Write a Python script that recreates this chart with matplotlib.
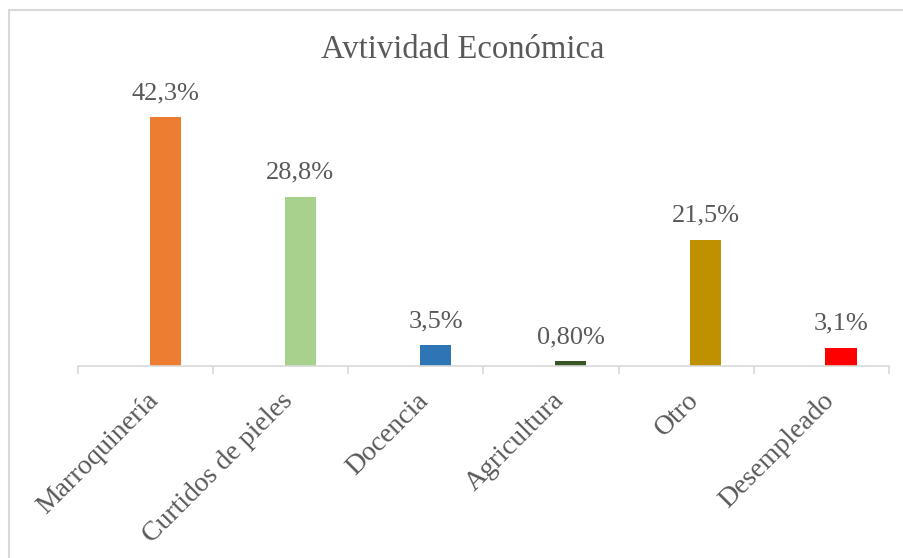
import matplotlib.pyplot as plt
from matplotlib.patches import Rectangle

# ── Data ──────────────────────────────────────────────────────────────────────

categories = ["Marroquinería", "Curtidos de pieles", "Docencia",
              "Agricultura", "Otro", "Desempleado"]
values = [42.3, 28.8, 3.5, 0.8, 21.5, 3.1]
value_labels = ["42,3%", "28,8%", "3,5%", "0,80%", "21,5%", "3,1%"]
bar_colors = ["#ED7D31", "#A9D18E", "#2E75B6", "#375623", "#BF9000", "#FF0000"]

TITLE = "Avtividad Económica"
TEXT_COLOR = "#595959"
AXIS_COLOR = "#D9D9D9"
BAR_SHIFT = 0.145   # bars sit a little right of the category centre (Excel series offset)

# ── Figure ────────────────────────────────────────────────────────────────────

plt.rcParams["font.family"] = ["Liberation Serif", "DejaVu Serif"]

W, H = 904, 558
fig = plt.figure(figsize=(W / 100, H / 100), dpi=100)

# outer chart border (light gray, right/bottom cut off like the source)
fig.patches.append(Rectangle((8.5 / W, -0.2), 1.2, 1.2 - 9.5 / H,
                             transform=fig.transFigure, fill=False,
                             edgecolor=AXIS_COLOR, linewidth=1.5))

left, right, bottom, top = 78, 889, 366, 72
ax = fig.add_axes([left / W, 1 - bottom / H, (right - left) / W, (bottom - top) / H])

x = list(range(len(categories)))
xb = [xi + BAR_SHIFT for xi in x]
ax.bar(xb, values, width=0.23, color=bar_colors)
ax.set_xlim(-0.5, len(categories) - 0.5)
ax.set_ylim(0, 50)

for xi, v, lab in zip(xb, values, value_labels):
    ax.annotate(lab, (xi, v), xytext=(0, 13), textcoords="offset points",
                ha="center", va="baseline", fontsize=19, color=TEXT_COLOR)

for side in ["left", "right", "top"]:
    ax.spines[side].set_visible(False)
ax.spines["bottom"].set_color(AXIS_COLOR)
ax.spines["bottom"].set_linewidth(1.2)
ax.set_yticks([])

# category ticks sit between bars, labels under category centres
ax.set_xticks([i - 0.5 for i in range(len(categories) + 1)])
ax.set_xticklabels([])
ax.tick_params(axis="x", length=6, width=1.2, color=AXIS_COLOR)
for xi, cat in zip(x, categories):
    ax.annotate(cat, (xi, 0), xytext=(0, -16), textcoords="offset points",
                rotation=45, rotation_mode="anchor", ha="right", va="top",
                fontsize=20, color=TEXT_COLOR)

fig.text(463 / W, 1 - 50 / H, TITLE, ha="center", va="center",
         fontsize=23.5, color=TEXT_COLOR)

fig.savefig("out.png", dpi=100)
